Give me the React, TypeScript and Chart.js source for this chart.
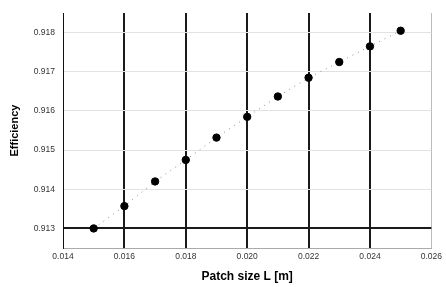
import React, { useEffect, useRef } from "react";
import { Chart, registerables } from "chart.js";

Chart.register(...registerables);

const patchSizes = [0.015, 0.016, 0.017, 0.018, 0.019, 0.02, 0.021, 0.022, 0.023, 0.024, 0.025];
const efficiency = [0.913, 0.91357, 0.9142, 0.91475, 0.91532, 0.91585, 0.91637, 0.91685, 0.91725, 0.91765, 0.91805];
const xTicks = [0.014, 0.016, 0.018, 0.02, 0.022, 0.024, 0.026];
const yTicks = [0.913, 0.914, 0.915, 0.916, 0.917, 0.918];
const darkX = [0.016, 0.018, 0.02, 0.022, 0.024];
const darkY = [0.913];

export default function App() {
  const ref = useRef<HTMLCanvasElement | null>(null);
  useEffect(() => {
    if (!ref.current) return;
    const near = (a: number, b: number) => Math.abs(a - b) < 1e-7;
    const chart = new Chart(ref.current, {
      type: "scatter",
      data: {
        datasets: [
          {
            data: patchSizes.map((x, i) => ({ x, y: efficiency[i] })),
            showLine: true,
            borderColor: "#8a8a8a",
            borderWidth: 1,
            borderDash: [1, 5],
            pointRadius: 3.7,
            pointStyle: "circle",
            pointBackgroundColor: "#000",
            pointBorderColor: "#000",
          },
        ],
      },
      options: {
        animation: false,
        responsive: false,
        maintainAspectRatio: false,
        layout: { padding: { top: 8, right: 9, left: 0, bottom: 0 } },
        plugins: { legend: { display: false }, tooltip: { enabled: false } },
        scales: {
          x: {
            type: "linear",
            min: 0.014,
            max: 0.026,
            afterBuildTicks: (s: any) => {
              s.ticks = xTicks.map((v) => ({ value: v }));
            },
            afterFit: (s: any) => {
              s.height = 39;
            },
            border: { display: true, color: "#aaa", width: 1 },
            grid: {
              drawTicks: false,
              color: (c: any) => (darkX.some((d) => near(d, c.tick?.value)) ? "#1a1a1a" : "#bbb"),
              lineWidth: (c: any) => (darkX.some((d) => near(d, c.tick?.value)) ? 2 : 1),
            },
            ticks: {
              padding: 4,
              color: "#333",
              font: { family: "Arial, Liberation Sans", size: 8.5 },
              callback: (v: any) => Number(v).toFixed(3),
              maxRotation: 0,
            },
            title: {
              display: true,
              text: "Patch size L [m]",
              color: "#000",
              font: { family: "Arial, Liberation Sans", size: 12, weight: "bold" },
              padding: { top: 0, bottom: 3 },
            },
          },
          y: {
            type: "linear",
            min: 0.9125,
            max: 0.9185,
            afterBuildTicks: (s: any) => {
              s.ticks = yTicks.map((v) => ({ value: v }));
            },
            afterFit: (s: any) => {
              s.width = 63;
            },
            border: { display: true, color: "#111", width: 1 },
            grid: {
              drawTicks: false,
              color: (c: any) => (darkY.some((d) => near(d, c.tick?.value)) ? "#1a1a1a" : "#e2e2e2"),
              lineWidth: (c: any) => (darkY.some((d) => near(d, c.tick?.value)) ? 2 : 1),
            },
            ticks: {
              padding: 8,
              color: "#333",
              font: { family: "Arial, Liberation Sans", size: 8.5 },
              callback: (v: any) => Number(v).toFixed(3),
            },
            title: {
              display: true,
              text: "Efficiency",
              color: "#000",
              font: { family: "Arial, Liberation Sans", size: 11, weight: "bold" },
              padding: { top: 8, bottom: 0 },
            },
          },
        },
      },
    });
    return () => chart.destroy();
  }, []);
  return (
    <div style={{ position: "fixed", left: 0, top: 0, width: 446, height: 287, background: "#fff" }}>
      <canvas ref={ref} width={446} height={287} style={{ width: 446, height: 287 }} />
    </div>
  );
}
